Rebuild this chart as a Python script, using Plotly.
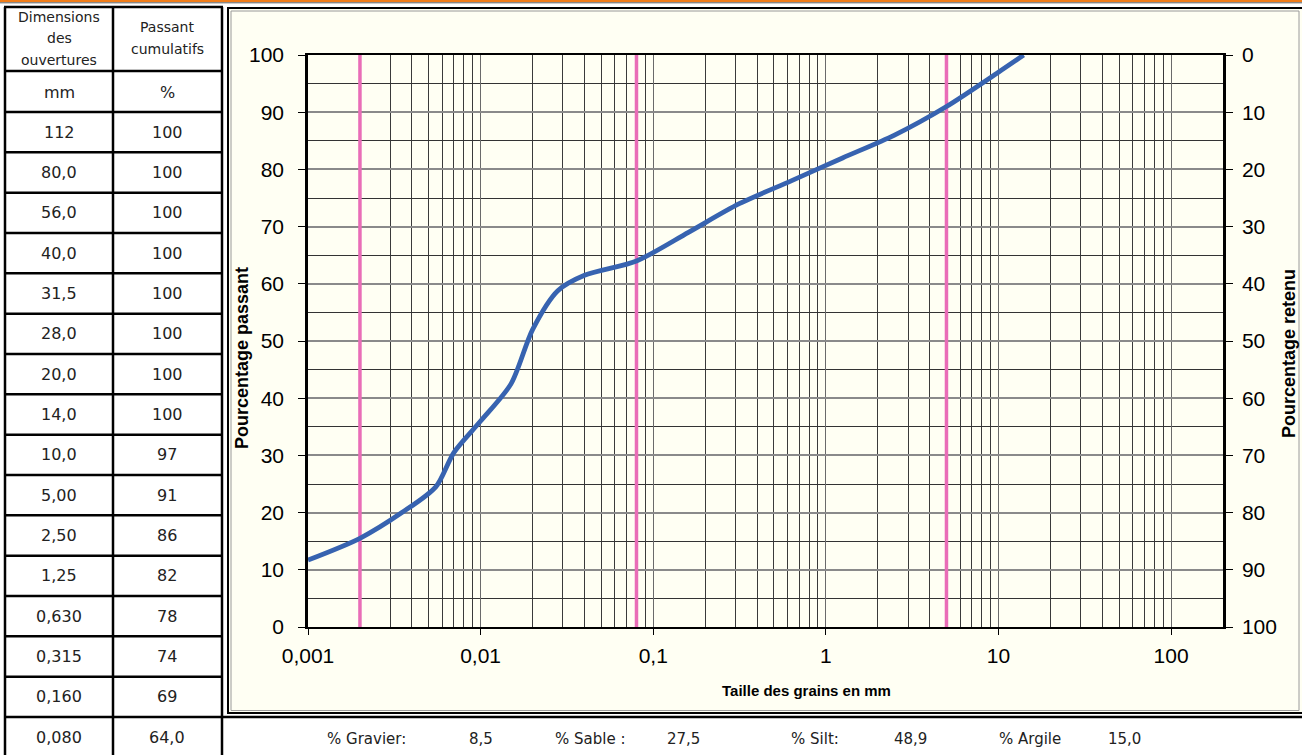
import numpy as np
import plotly.graph_objects as go

# ---------------- data ----------------
table_size_labels = ["112", "80,0", "56,0", "40,0", "31,5", "28,0", "20,0", "14,0",
                     "10,0", "5,00", "2,50", "1,25", "0,630", "0,315", "0,160", "0,080"]
table_pass_labels = ["100", "100", "100", "100", "100", "100", "100", "100",
                     "97", "91", "86", "82", "78", "74", "69", "64,0"]

sieve_mm = [14.0, 10.0, 5.0, 2.5, 1.25, 0.63, 0.315, 0.16, 0.08]
sieve_pass = [100, 97, 91, 86, 82, 78, 74, 69, 64.0]

hydro_mm = [0.04, 0.028, 0.02, 0.015, 0.01, 0.007, 0.0055, 0.0035, 0.002, 0.001]
hydro_pass = [61.5, 58.8, 52.0, 42.5, 36.0, 30.5, 24.5, 20.0, 15.5, 11.7]

limit_mm = [0.002, 0.08, 5.0]

footer_labels = ["% Gravier:", "% Sable :", "% Silt:", "% Argile"]
footer_values = ["8,5", "27,5", "48,9", "15,0"]

x_tick_vals = [0.001, 0.01, 0.1, 1, 10, 100]
x_tick_text = ["0,001", "0,01", "0,1", "1", "10", "100"]

# ---------------- geometry helpers ----------------
W, H = 1302, 755


def px(x):
    return x / W


def py(y):
    return 1 - y / H


CREAM = "#FFFFF3"
TABLE_FONT = "DejaVu Sans"
CHART_FONT = "Liberation Sans, Arial"

curve_x = sorted(hydro_mm + sieve_mm)
pairs = dict(zip(hydro_mm + sieve_mm, hydro_pass + sieve_pass))
curve_y = [pairs[v] for v in curve_x]

fig = go.Figure()

for lm in limit_mm:
    fig.add_trace(go.Scatter(x=[lm, lm], y=[0, 100], mode="lines",
                             line=dict(color="#E96DB7", width=3.5),
                             hoverinfo="skip", showlegend=False))

fig.add_trace(go.Scatter(x=curve_x, y=curve_y, mode="lines",
                         line=dict(color="#3763B0", width=4.8, shape="spline", smoothing=0.8),
                         showlegend=False))

# invisible trace to activate the right axis
fig.add_trace(go.Scatter(x=[0.001], y=[0], yaxis="y2", mode="markers",
                         marker=dict(opacity=0), hoverinfo="skip", showlegend=False))

minor_x = []
for dec in [0.001, 0.01, 0.1, 1, 10, 100]:
    for m in range(2, 10):
        v = dec * m
        if v <= 200:
            minor_x.append(v)

shapes = []
# top orange band
shapes.append(dict(type="rect", xref="paper", yref="paper", x0=0, x1=1, y0=py(2), y1=1,
                   fillcolor="#F07D1A", line=dict(width=0), layer="below"))
shapes.append(dict(type="line", xref="paper", yref="paper", x0=0, x1=1, y0=py(2.8), y1=py(2.8),
                   line=dict(color="#555", width=1), layer="below"))
# chart panel
shapes.append(dict(type="rect", xref="paper", yref="paper", x0=px(228), x1=px(1303), y0=py(713), y1=py(8),
                   fillcolor=CREAM, line=dict(color="black", width=2), layer="below"))
shapes.append(dict(type="rect", xref="paper", yref="paper", x0=px(231), x1=px(1299), y0=py(710.5), y1=py(11),
                   line=dict(color="#9a9a9a", width=1), layer="below"))

# table lines
row_top = 112
row_h = (717 - 112) / 15
h_lines = [7, 71, 112] + [row_top + row_h * k for k in range(1, 15)]
for yy in h_lines:
    shapes.append(dict(type="line", xref="paper", yref="paper", x0=px(4), x1=px(223), y0=py(yy), y1=py(yy),
                       line=dict(color="black", width=2.5)))
shapes.append(dict(type="line", xref="paper", yref="paper", x0=px(4), x1=1, y0=py(717), y1=py(717),
                   line=dict(color="black", width=2.5)))
for xx in [5, 113, 222]:
    shapes.append(dict(type="line", xref="paper", yref="paper", x0=px(xx), x1=px(xx), y0=py(7), y1=0,
                       line=dict(color="black", width=2.5)))

annotations = []


def text(x, y, s, size=15, font=TABLE_FONT, color="#222", bold=False, angle=0, xanchor="center"):
    annotations.append(dict(x=px(x), y=py(y), xref="paper", yref="paper", text=(f"<b>{s}</b>" if bold else s),
                            showarrow=False, xanchor=xanchor, yanchor="middle", textangle=angle,
                            font=dict(family=font, size=size, color=color)))


# table header
text(59, 17, "Dimensions", size=14)
text(59, 38, "des", size=14)
text(59, 60, "ouvertures", size=14)
text(167, 27, "Passant", size=14)
text(167, 49, "cumulatifs", size=14)
text(59, 92, "mm", size=16)
text(167, 92, "%", size=16)
for i, (s, p) in enumerate(zip(table_size_labels, table_pass_labels)):
    yc = row_top + row_h * (i + 0.5) if i < 15 else 737
    text(59, yc, s, size=16)
    text(167, yc, p, size=16)

# footer
fx_lab = [366, 590, 815, 1030]
fx_val = [481, 684, 910, 1124]
for lab, val, xl, xv in zip(footer_labels, footer_values, fx_lab, fx_val):
    text(xl, 739, lab, size=15)
    text(xv, 739, val, size=15)

# axis titles
text(806, 690, "Taille des grains en mm", size=15, font=CHART_FONT, color="black", bold=True)
text(242, 358, "Pourcentage passant", size=18, font=CHART_FONT, color="black", bold=True, angle=-90)
text(1289, 354, "Pourcentage retenu", size=18, font=CHART_FONT, color="black", bold=True, angle=-90)

fig.update_layout(
    width=W, height=H,
    autosize=False,
    margin=dict(l=0, r=0, t=0, b=0, pad=0),
    paper_bgcolor="white",
    plot_bgcolor=CREAM,
    shapes=shapes,
    annotations=annotations,
    xaxis=dict(
        type="log", domain=[px(308), px(1223)], range=[-3, np.log10(200)],
        automargin=False,
        tickmode="array", tickvals=x_tick_vals, ticktext=x_tick_text,
        ticks="outside", ticklen=6, tickcolor="black", ticklabelstandoff=3,
        tickfont=dict(family=CHART_FONT, size=21, color="black"),
        showgrid=True, gridcolor="#6a6a6a", gridwidth=1,
        minor=dict(tickmode="array", tickvals=minor_x, showgrid=True, gridcolor="#3a3a3a", gridwidth=1, ticks=""),
        showline=True, linecolor="black", linewidth=2, mirror=True, zeroline=False,
    ),
    yaxis=dict(
        domain=[py(627), py(55)], range=[0, 100], tickmode="linear", tick0=0, dtick=10,
        automargin=False,
        ticks="outside", ticklen=7, tickcolor="black", ticklabelstandoff=10,
        tickfont=dict(family=CHART_FONT, size=21, color="black"),
        showgrid=True, gridcolor="#8a8a8a", gridwidth=1.5,
        minor=dict(dtick=5, showgrid=True, gridcolor="#333", gridwidth=1, ticks=""),
        showline=True, linecolor="black", linewidth=2.5, zeroline=False,
    ),
    yaxis2=dict(
        overlaying="y", side="right", range=[100, 0], tickmode="linear", tick0=0, dtick=10,
        automargin=False,
        ticks="outside", ticklen=7, tickcolor="black", ticklabelstandoff=5,
        tickfont=dict(family=CHART_FONT, size=21, color="black"),
        showgrid=False, showline=True, linecolor="black", linewidth=2.5, zeroline=False,
    ),
)

fig.write_html("out.html")
